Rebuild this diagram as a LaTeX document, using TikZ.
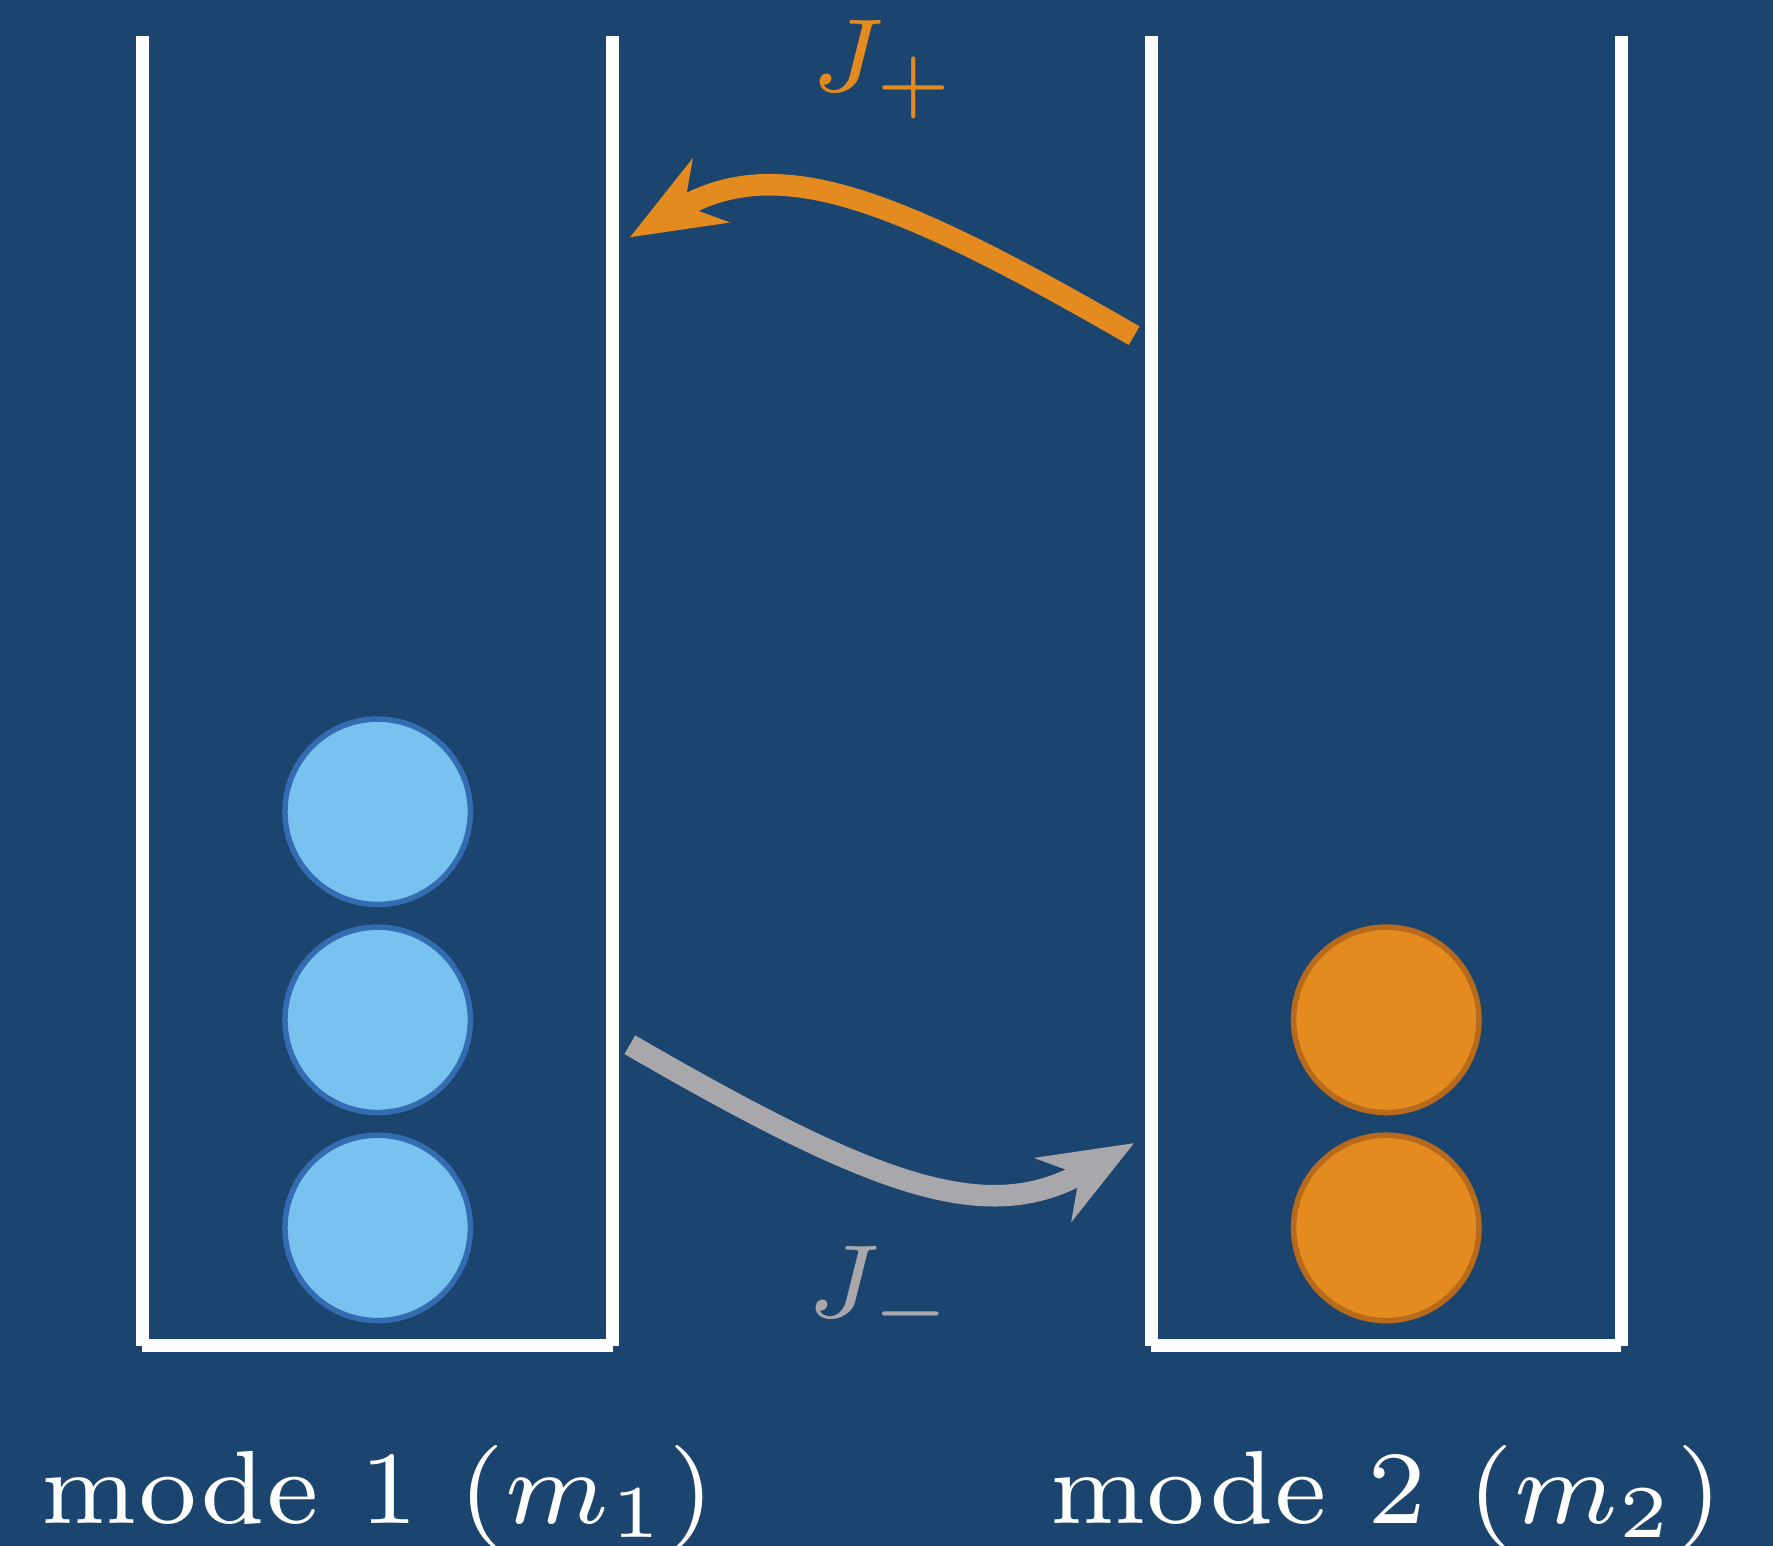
\documentclass[tikz,border=0pt]{standalone}
\definecolor{bgblue}{RGB}{27,69,110}
\definecolor{modeorange}{RGB}{228,139,31}
\definecolor{modeorangedark}{RGB}{184,106,28}
\definecolor{modeblue}{RGB}{120,194,239}
\definecolor{modebluedark}{RGB}{52,108,178}
\definecolor{fluxgray}{RGB}{168,167,172}
\usepackage{tikz}
\usetikzlibrary{arrows.meta}

\begin{document}
\begin{tikzpicture}[
  scale=0.2674,
  wall/.style={draw=white, line width=0.88pt},
  ball1/.style={circle, draw=modebluedark, fill=modeblue, line width=0.37pt, minimum size=4.385mm, inner sep=0pt},
  ball2/.style={circle, draw=modeorangedark, fill=modeorange, line width=0.37pt, minimum size=4.385mm, inner sep=0pt},
  flux/.style={line width=1.45pt, -{Stealth[length=2.19mm, width=1.71mm, inset=0.7mm]}},
  lbl/.style={font=\scriptsize, anchor=base, inner sep=0pt}
]
  \fill[bgblue] (0,0) rectangle (15.68,13.67);
  \useasboundingbox (0,0) rectangle (15.68,13.67);

  \draw[wall] (1.26,13.35) -- (1.26,1.77);
  \draw[wall] (5.42,13.35) -- (5.42,1.77);
  \draw[wall] (1.26,1.77) -- (5.42,1.77);
  \draw[wall] (10.18,13.35) -- (10.18,1.77);
  \draw[wall] (14.34,13.35) -- (14.34,1.77);
  \draw[wall] (10.18,1.77) -- (14.34,1.77);

  \node[ball1] (b1) at (3.34,6.49) {};
  \node[ball1] (b2) at (3.34,4.65) {};
  \node[ball1] (b3) at (3.34,2.81) {};
  \node[ball2] (o1) at (12.26,4.65) {};
  \node[ball2] (o2) at (12.26,2.81) {};

  \coordinate (jpfrom) at (10.03,10.70);
  \coordinate (jpto) at (5.57,11.57);
  \coordinate (jmfrom) at (5.57,4.43);
  \coordinate (jmto) at (10.03,3.56);
  \draw[flux, modeorange] (jpfrom) .. controls (7.87,11.95) and (6.87,12.32) .. (jpto);
  \draw[flux, fluxgray] (jmfrom) .. controls (7.73,3.18) and (8.73,2.81) .. (jmto);

  \node[lbl, text=modeorange] (jplus) at (7.82,12.86) {$J_+$};
  \node[lbl, text=fluxgray] (jminus) at (7.80,2.02) {$J_-$};

  \node[lbl, text=white] (mode1) at (3.34,0.20) {mode 1 $(m_1)$};
  \node[lbl, text=white] (mode2) at (12.26,0.20) {mode 2 $(m_2)$};
\end{tikzpicture}
\end{document}
